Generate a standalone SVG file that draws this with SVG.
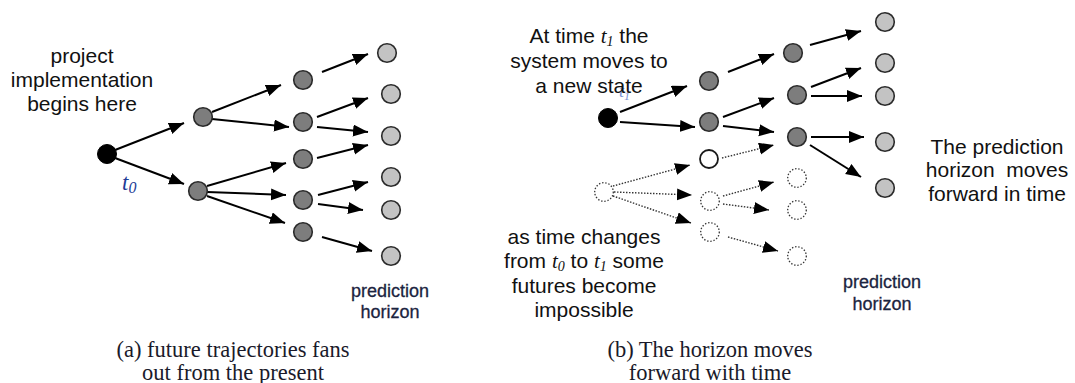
<svg xmlns="http://www.w3.org/2000/svg" width="1075" height="383" viewBox="0 0 1075 383">
<style>
.bg{fill:#fff}
.dk{fill:#7d7d7d;stroke:#2a2a2a;stroke-width:1.6}
.lt{fill:#c3c3c3;stroke:#2a2a2a;stroke-width:1.6}
.bk{fill:#000;stroke:#000;stroke-width:1}
.wh{fill:#fff;stroke:#1a1a1a;stroke-width:1.8}
.dt{fill:#fff;stroke:#333;stroke-width:1.3;stroke-dasharray:1.4 1.8}
.ar{stroke:#000;stroke-width:2;fill:none;marker-end:url(#ah)}
.ad{stroke:#333;stroke-width:1.4;stroke-dasharray:1.5 1.5;fill:none;marker-end:url(#ah)}
.lb{font-family:"Liberation Sans",Arial,sans-serif;font-size:21px;fill:#111;text-anchor:middle}
.ph{font-family:"Liberation Sans",Arial,sans-serif;font-size:18px;fill:#1b2440;stroke:#1b2440;stroke-width:0.3;text-anchor:middle}
.cap{font-family:"Liberation Serif","Times New Roman",serif;font-size:22.5px;fill:#1a1a2a;text-anchor:middle}
.it{font-family:"Liberation Serif","Times New Roman",serif;font-style:italic}
.bl{fill:#1e3c96}
</style>
<defs>
<marker id="ah" markerUnits="userSpaceOnUse" markerWidth="16" markerHeight="13" refX="15" refY="6" orient="auto">
<path d="M0,0 L15,6 L0,12 z" fill="#000"/>
</marker>
</defs>
<rect class="bg" width="1075" height="383"/>

<g id="connectors">
<!-- panel a -->
<line class="ar" x1="115" y1="150" x2="184" y2="123"/>
<line class="ar" x1="115" y1="158" x2="184" y2="184"/>
<line class="ar" x1="212" y1="112" x2="281" y2="85"/>
<line class="ar" x1="212" y1="119" x2="289" y2="127"/>
<line class="ar" x1="207" y1="186" x2="286" y2="163"/>
<line class="ar" x1="207" y1="192" x2="286" y2="195"/>
<line class="ar" x1="207" y1="196" x2="285" y2="223"/>
<line class="ar" x1="322" y1="72" x2="368" y2="54"/>
<line class="ar" x1="317" y1="117" x2="368" y2="98"/>
<line class="ar" x1="317" y1="127" x2="368" y2="132"/>
<line class="ar" x1="317" y1="158" x2="368" y2="145"/>
<line class="ar" x1="318" y1="195" x2="368" y2="182"/>
<line class="ar" x1="318" y1="204" x2="363" y2="210"/>
<line class="ar" x1="322" y1="237" x2="372" y2="251"/>
<!-- panel b solid -->
<line class="ar" x1="620" y1="112" x2="687" y2="86"/>
<line class="ar" x1="620" y1="122" x2="695" y2="127"/>
<line class="ar" x1="728" y1="72" x2="774" y2="54"/>
<line class="ar" x1="723" y1="117" x2="774" y2="98"/>
<line class="ar" x1="723" y1="126" x2="774" y2="132"/>
<line class="ar" x1="810" y1="45" x2="861" y2="31"/>
<line class="ar" x1="811" y1="87" x2="861" y2="68"/>
<line class="ar" x1="811" y1="96" x2="862" y2="96"/>
<line class="ar" x1="811" y1="137" x2="864" y2="137"/>
<line class="ar" x1="810" y1="145" x2="861" y2="177"/>
<!-- panel b dotted -->
<line class="ad" x1="613" y1="186" x2="690" y2="165"/>
<line class="ad" x1="614" y1="192" x2="692" y2="195"/>
<line class="ad" x1="613" y1="196" x2="691" y2="223"/>
<line class="ad" x1="722" y1="158" x2="774" y2="145"/>
<line class="ad" x1="723" y1="196" x2="774" y2="182"/>
<line class="ad" x1="723" y1="204" x2="769" y2="210"/>
<line class="ad" x1="728" y1="237" x2="778" y2="251"/>
</g>

<g id="nodes-a">
<circle id="a-root" class="bk" cx="107" cy="154" r="9.5"/>
<circle id="a-1a" class="dk" cx="203" cy="117" r="9.3"/>
<circle id="a-1b" class="dk" cx="198" cy="191" r="9.3"/>
<circle id="a-2a" class="dk" cx="303" cy="80" r="9.3"/>
<circle id="a-2b" class="dk" cx="303" cy="122" r="9.3"/>
<circle id="a-2c" class="dk" cx="303" cy="159" r="9.3"/>
<circle id="a-2d" class="dk" cx="303" cy="200" r="9.3"/>
<circle id="a-2e" class="dk" cx="303" cy="232" r="9.3"/>
<circle id="a-3a" class="lt" cx="387" cy="53" r="9.3"/>
<circle id="a-3b" class="lt" cx="391" cy="94" r="9.3"/>
<circle id="a-3c" class="lt" cx="391" cy="136" r="9.3"/>
<circle id="a-3d" class="lt" cx="391" cy="177" r="9.3"/>
<circle id="a-3e" class="lt" cx="391" cy="210" r="9.3"/>
<circle id="a-3f" class="lt" cx="391" cy="256" r="9.3"/>
</g>

<g id="nodes-b">
<circle id="b-root" class="bk" cx="608" cy="118" r="9.5"/>
<circle id="b-droot" class="dt" cx="604" cy="192" r="9.3"/>
<circle id="b-1a" class="dk" cx="709" cy="81" r="9.3"/>
<circle id="b-1b" class="dk" cx="709" cy="122" r="9.3"/>
<circle id="b-1c" class="wh" cx="709" cy="159" r="9"/>
<circle id="b-1d" class="dt" cx="710" cy="201" r="9.3"/>
<circle id="b-1e" class="dt" cx="710" cy="232" r="9.3"/>
<circle id="b-2a" class="dk" cx="793" cy="53" r="9.3"/>
<circle id="b-2b" class="dk" cx="797" cy="95" r="9.3"/>
<circle id="b-2c" class="dk" cx="797" cy="137" r="9.3"/>
<circle id="b-2d" class="dt" cx="797" cy="178" r="9.3"/>
<circle id="b-2e" class="dt" cx="797" cy="210" r="9.3"/>
<circle id="b-2f" class="dt" cx="797" cy="256" r="9.3"/>
<circle id="b-3a" class="lt" cx="885" cy="22" r="9.3"/>
<circle id="b-3b" class="lt" cx="885" cy="63" r="9.3"/>
<circle id="b-3c" class="lt" cx="885" cy="96" r="9.3"/>
<circle id="b-3d" class="lt" cx="885" cy="142" r="9.3"/>
<circle id="b-3e" class="lt" cx="885" cy="188" r="9.3"/>
</g>

<g id="labels">
<text class="lb" x="82" y="63">project</text>
<text class="lb" x="82" y="87">implementation</text>
<text class="lb" x="82" y="111">begins here</text>
<text class="it bl" x="122" y="190" font-size="23">t<tspan font-size="16" dy="3">0</tspan></text>
<text class="ph" x="390" y="297">prediction</text>
<text class="ph" x="390" y="318">horizon</text>
<text class="cap" x="233" y="357">(a) future trajectories fans</text>
<text class="cap" x="233" y="380">out from the present</text>

<text class="it" x="619" y="97" font-size="18" fill="#4a6cc8" opacity="0.75">t<tspan font-size="12" dy="3">1</tspan></text>
<text class="lb" x="589" y="43">At time <tspan class="it">t</tspan><tspan class="it" font-size="14" dy="3">1</tspan><tspan dy="-3"> the</tspan></text>
<text class="lb" x="589" y="68">system moves to</text>
<text class="lb" x="589" y="93">a new state</text>

<text class="lb" x="584" y="244">as time changes</text>
<text class="lb" x="584" y="268">from <tspan class="it">t</tspan><tspan class="it" font-size="14" dy="3">0</tspan><tspan dy="-3"> to </tspan><tspan class="it">t</tspan><tspan class="it" font-size="14" dy="3">1</tspan><tspan dy="-3"> some</tspan></text>
<text class="lb" x="584" y="293">futures become</text>
<text class="lb" x="584" y="317">impossible</text>

<text class="lb" x="997" y="154">The prediction</text>
<text class="lb" x="997" y="177" style="white-space:pre">horizon  moves</text>
<text class="lb" x="997" y="201">forward in time</text>

<text class="ph" x="882" y="288">prediction</text>
<text class="ph" x="882" y="310">horizon</text>
<text class="cap" x="710" y="357">(b) The horizon moves</text>
<text class="cap" x="710" y="380">forward with time</text>
</g>
</svg>
